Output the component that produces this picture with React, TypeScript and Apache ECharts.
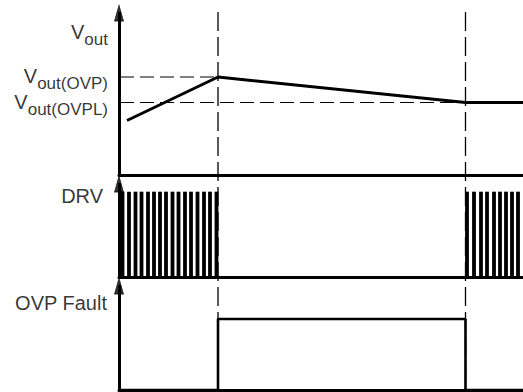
import React, { useEffect, useRef } from "react";
import * as echarts from "echarts";

// time axis (arbitrary units): 0 = axis origin
const T_END = 404;
const T_TRIP = 99; // OVP trip
const T_RESUME = 346.5; // Vout back at OVPL

// Vout panel (arbitrary volts)
const V_OVP = 9.8;
const V_OVPL = 7.25;
const voutPoints: [number, number][] = [
  [8, 5.45],
  [T_TRIP, V_OVP],
  [T_RESUME, V_OVPL],
  [T_END, V_OVPL],
];
const voutLabels = [
  { text: "{v|V}{s|out}", y: 14.2 },
  { text: "{v|V}{s|out(OVP)}", y: V_OVP },
  { text: "{v|V}{s|out(OVPL)}", y: V_OVPL },
];

// DRV pulses (positions in time units, logic high = 1)
const drvPulses1 = [3.5, 10, 16.5, 22.5, 29, 35, 41, 47, 53.5, 59.5, 66, 72, 78.5, 85, 91, 97.5];
const drvPulses2 = [348, 355, 362, 368, 375, 381, 387, 393, 399];
const DRV_HIGH = 1;

// OVP fault signal
const faultPoints: [number, number][] = [
  [0, 0],
  [T_TRIP, 0],
  [T_TRIP, 1],
  [T_RESUME, 1],
  [T_RESUME, 0],
  [T_END, 0],
];

// overlay positions (page-height units) for arrow heads and the dashed markers
const arrowCenters = [13, 184, 286];
const markerSpan = [12, 390];

const FONT = "Liberation Sans, Arial, sans-serif";

export default function App() {
  const ref = useRef<HTMLDivElement>(null);
  useEffect(() => {
    if (!ref.current) return;
    const chart = echarts.init(ref.current, undefined, { renderer: "svg" });
    const axisLineStyle = { color: "#000", width: 3 };
    const mkX = (gi: number, show: boolean) => ({
      type: "value",
      gridIndex: gi,
      min: 0,
      max: T_END,
      axisLine: { show, onZero: false, lineStyle: axisLineStyle },
      axisTick: { show: false },
      axisLabel: { show: false },
      splitLine: { show: false },
    });
    const mkY = (gi: number, max: number, show: boolean, inverse = false) => ({
      type: "value",
      gridIndex: gi,
      min: 0,
      max,
      inverse,
      axisLine: { show, onZero: false, lineStyle: axisLineStyle },
      axisTick: { show: false },
      axisLabel: { show: false },
      splitLine: { show: false },
    });
    const rich = {
      v: { fontSize: 20, fontFamily: FONT, color: "#000", verticalAlign: "top", lineHeight: 22 },
      s: { fontSize: 17, fontFamily: FONT, color: "#000", verticalAlign: "top", lineHeight: 22, padding: [9, 0, 0, 0] },
    };
    const black = "#000";
    const option: any = {
      animation: false,
      grid: [
        { left: 119, right: 0, top: 13, height: 162 },
        { left: 119, right: 0, top: 184, height: 93 },
        { left: 119, right: 0, top: 286, height: 104 },
        { left: 119, right: 0, top: 0, height: 392 },
      ],
      xAxis: [mkX(0, true), mkX(1, true), mkX(2, true), mkX(3, false)],
      yAxis: [mkY(0, 16.2, true), mkY(1, 1.09, true), mkY(2, 1.465, true), mkY(3, 392, false, true)],
      series: [
        {
          type: "line",
          xAxisIndex: 3,
          yAxisIndex: 3,
          data: markerSpan.map((y) => [T_TRIP, y]),
          symbol: "none",
          lineStyle: { color: black, width: 1.3, type: [19, 6] },
        },
        {
          type: "line",
          xAxisIndex: 3,
          yAxisIndex: 3,
          data: markerSpan.map((y) => [T_RESUME, y]),
          symbol: "none",
          lineStyle: { color: black, width: 1.3, type: [19, 6] },
        },
        {
          type: "scatter",
          xAxisIndex: 3,
          yAxisIndex: 3,
          clip: false,
          symbol: "triangle",
          symbolSize: [9, 16],
          itemStyle: { color: black, borderColor: black, borderWidth: 0.8 },
          z: 5,
          data: arrowCenters.map((y) => [0, y]),
        },
        {
          type: "line",
          xAxisIndex: 0,
          yAxisIndex: 0,
          data: [
            [1, V_OVP],
            [T_TRIP, V_OVP],
          ],
          symbol: "none",
          lineStyle: { color: black, width: 1.2, type: [14, 6] },
        },
        {
          type: "line",
          xAxisIndex: 0,
          yAxisIndex: 0,
          data: [
            [1, V_OVPL],
            [T_RESUME, V_OVPL],
          ],
          symbol: "none",
          lineStyle: { color: black, width: 1.2, type: [14, 6] },
        },
        {
          type: "line",
          xAxisIndex: 0,
          yAxisIndex: 0,
          data: voutPoints,
          symbol: "none",
          lineStyle: { color: black, width: 3 },
        },
        {
          type: "scatter",
          xAxisIndex: 0,
          yAxisIndex: 0,
          symbolSize: 0,
          data: voutLabels.map((l) => ({
            value: [0, l.y],
            label: { formatter: l.text },
          })),
          label: { show: true, position: "left", distance: 11, rich },
        },
        {
          type: "bar",
          xAxisIndex: 1,
          yAxisIndex: 1,
          barWidth: 3.8,
          itemStyle: { color: black },
          data: [...drvPulses1, ...drvPulses2].map((t) => [t, DRV_HIGH]),
        },
        {
          type: "scatter",
          xAxisIndex: 1,
          yAxisIndex: 1,
          symbolSize: 0,
          data: [[0, 0.95]],
          label: {
            show: true,
            position: "left",
            distance: 16,
            formatter: "DRV",
            fontSize: 20,
            fontFamily: FONT,
            color: black,
          },
        },
        {
          type: "line",
          xAxisIndex: 2,
          yAxisIndex: 2,
          data: faultPoints,
          symbol: "none",
          lineStyle: { color: black, width: 2.6 },
        },
        {
          type: "scatter",
          xAxisIndex: 2,
          yAxisIndex: 2,
          symbolSize: 0,
          data: [[0, 1.225]],
          label: {
            show: true,
            position: "left",
            distance: 12,
            formatter: "OVP Fault",
            fontSize: 20,
            fontFamily: FONT,
            color: black,
          },
        },
      ],
    };
    chart.setOption(option);
    return () => chart.dispose();
  }, []);
  return (
    <div
      ref={ref}
      style={{ position: "absolute", left: 0, top: 0, width: 523, height: 392, background: "#fff" }}
    />
  );
}
